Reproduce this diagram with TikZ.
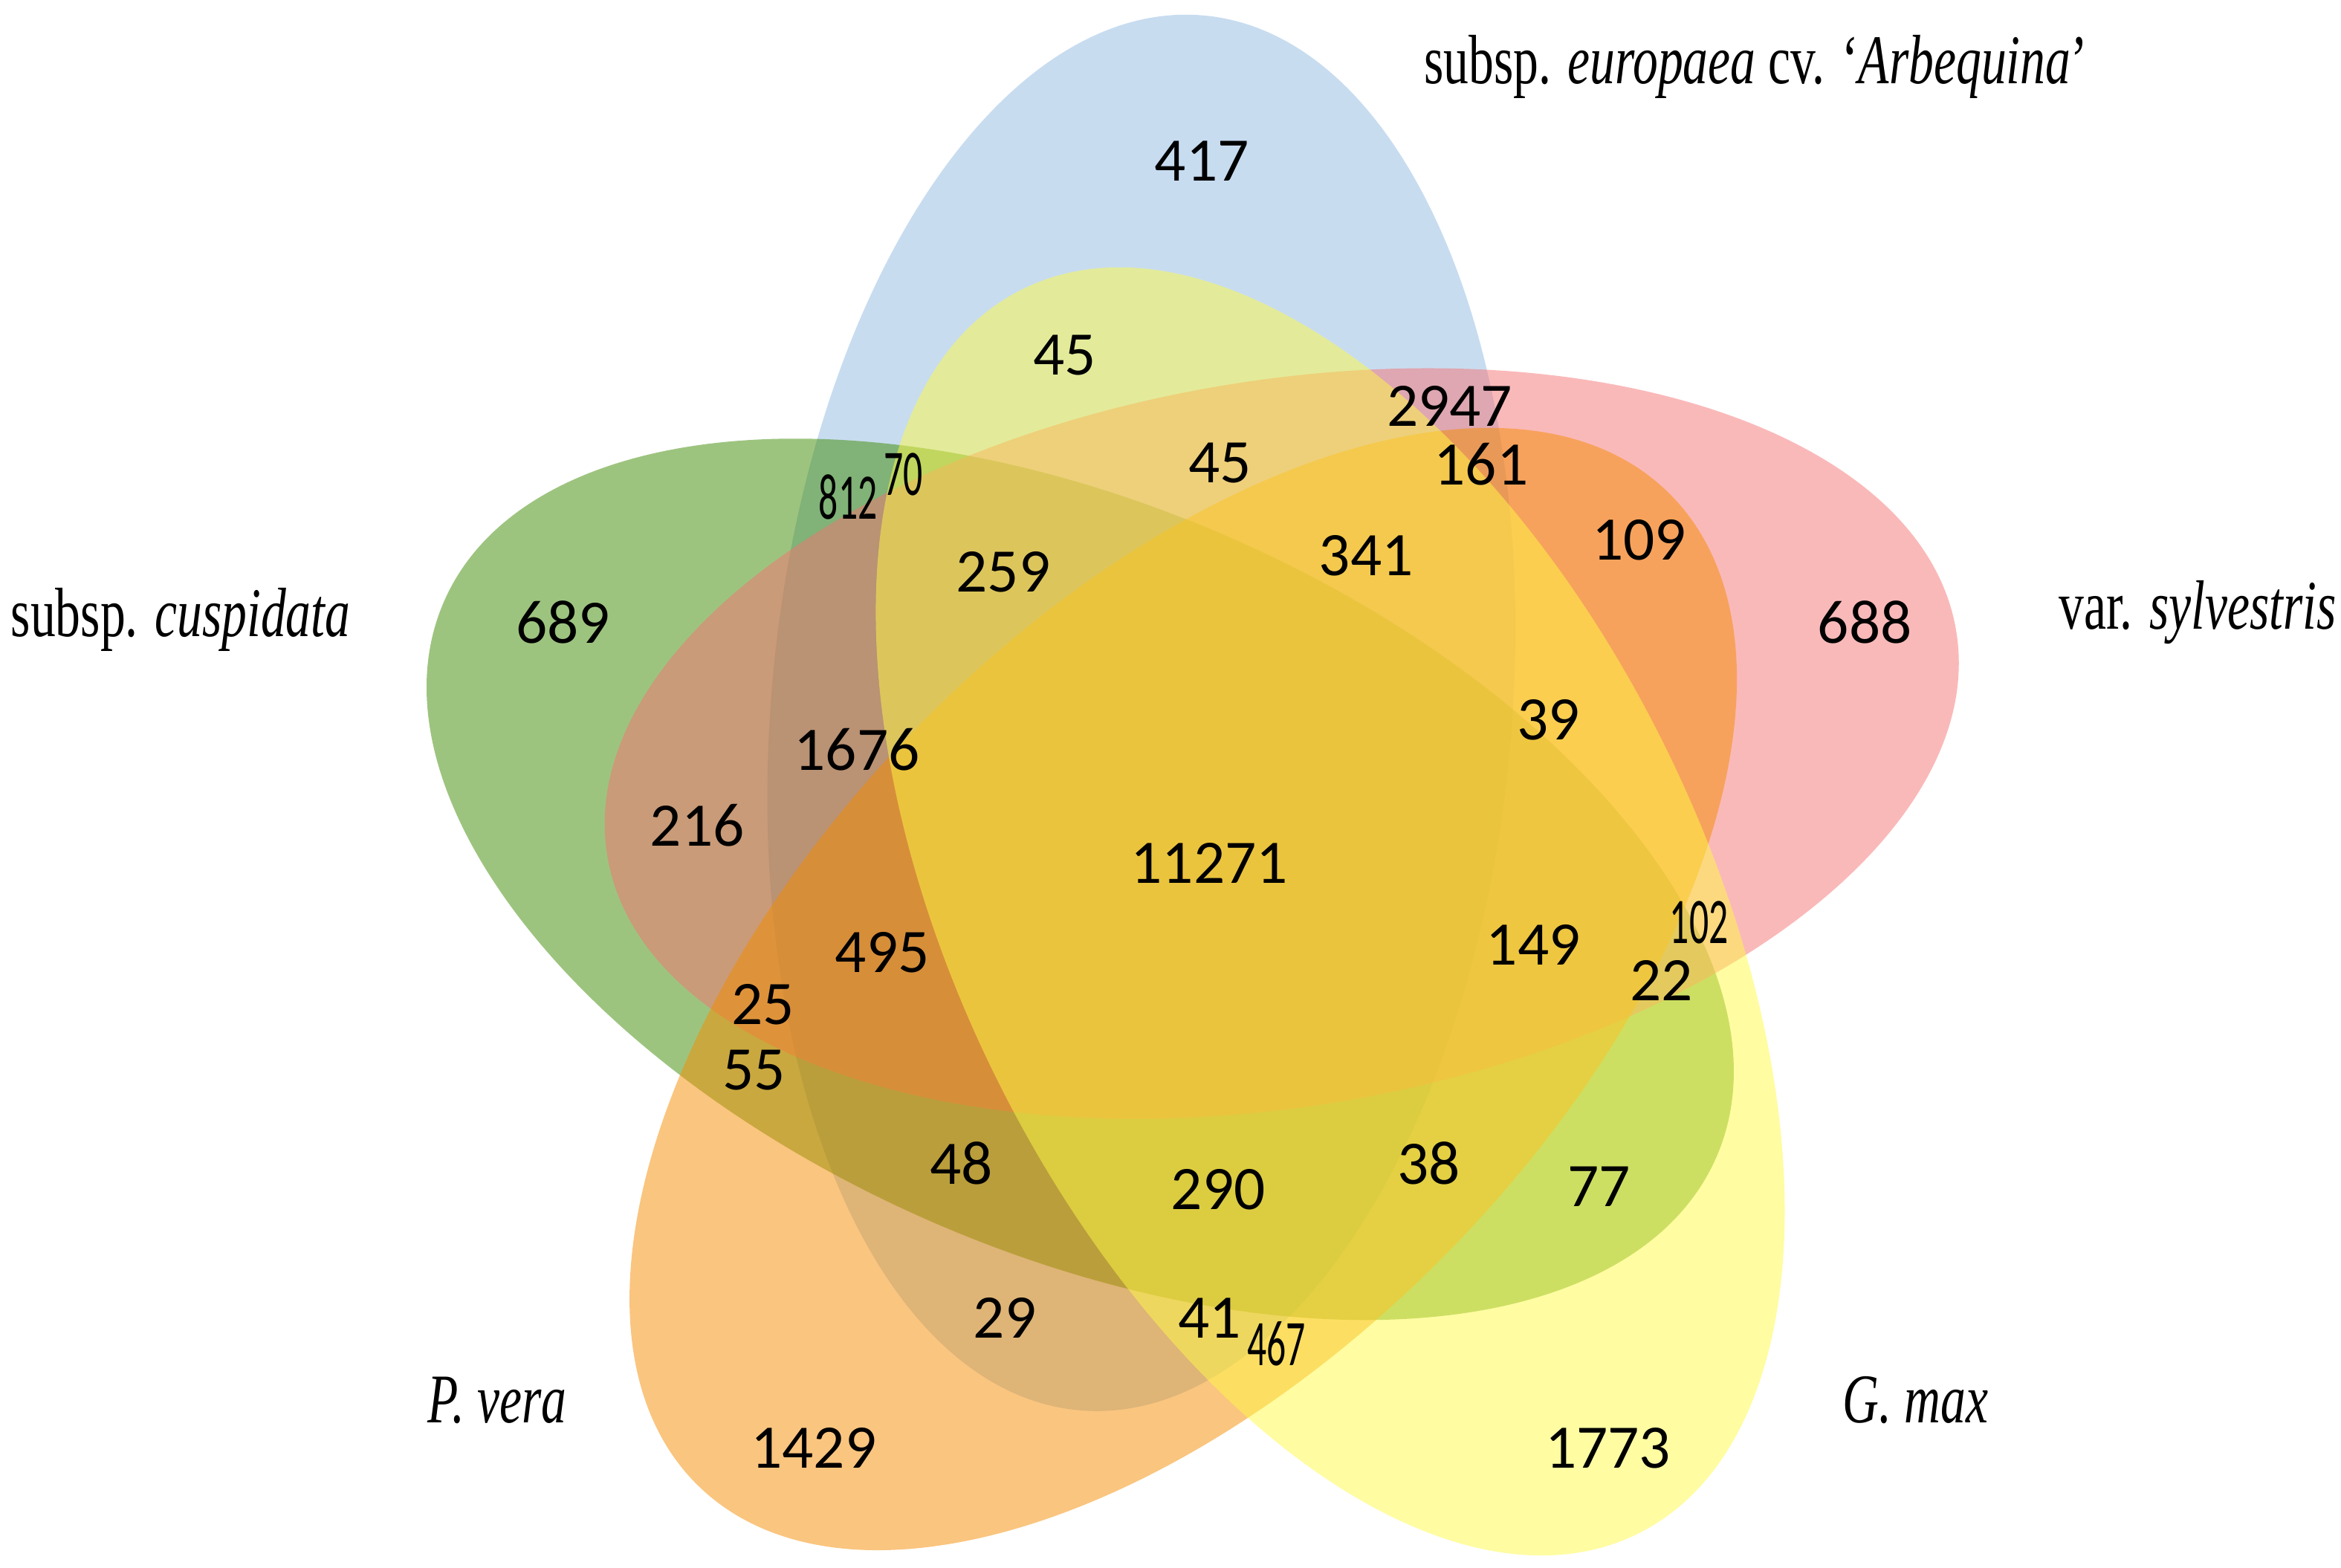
\documentclass[tikz,border=0pt]{standalone}
\usepackage{fontspec}
\usepackage{graphicx}
\setmainfont{Carlito}
\newfontfamily\labelfont{Liberation Serif}[ItalicFont={Liberation Serif Italic}]
\definecolor{arbcol}{RGB}{145,185,225}
\definecolor{sylcol}{RGB}{245,115,115}
\definecolor{cuscol}{RGB}{59,137,0}
\definecolor{vercol}{RGB}{245,140,0}
\definecolor{maxcol}{RGB}{255,250,70}
\begin{document}
\begin{tikzpicture}[font=\fontsize{11.8}{14}\selectfont,
            every node/.style={inner sep=0pt},
            petal/.style={fill opacity=0.5},
            lab/.style={font=\labelfont\fontsize{13.3}{16}\selectfont}]
            \def\narrow#1{\scalebox{0.62}[1.05]{#1}}
            \def\cond#1{\scalebox{0.72}[1]{#1}}
            \useasboundingbox (0,0) rectangle (15.68,10.5);
            \fill[petal, arbcol, shift={(7.645,5.725)}, rotate=84.9] (0,0) ellipse (4.69 and 2.48);
            \fill[petal, cuscol, shift={(7.235,4.61)}, rotate=-23.6] (0,0) ellipse (4.65 and 2.50);
            \fill[petal, sylcol, shift={(8.585,5.52)}, rotate=9.5] (0,0) ellipse (4.58 and 2.43);
            \fill[petal, vercol, shift={(7.925,3.875)}, rotate=45.7] (0,0) ellipse (4.65 and 2.50);
            \fill[petal, maxcol, shift={(8.91,4.395)}, rotate=-63.7] (0,0) ellipse (4.65 and 2.50);
            \node[lab] (arbequina) at (11.76,10.05) {\cond{subsp. \textit{europaea} cv. ‘\textit{Arbequina}’}};
            \node[lab] (cuspidata) at (1.21,6.35) {\cond{subsp. \textit{cuspidata}}};
            \node[lab] (sylvestris) at (14.72,6.40) {\cond{var. \textit{sylvestris}}};
            \node[lab] (vera) at (3.33,1.12) {\cond{\textit{P. vera}}};
            \node[lab] (gmax) at (12.83,1.12) {\cond{\textit{G. max}}};
            \node (n417) at (8.05,9.42) {417};
            \node (n45a) at (7.13,8.12) {45};
            \node (n2947) at (9.71,7.78) {2947};
            \node (n45b) at (8.17,7.40) {45};
            \node (n161) at (9.92,7.39) {161};
            \node (n70) at (6.05,7.32) {\narrow{70}};
            \node (n812) at (5.68,7.17) {\narrow{812}};
            \node (n259) at (6.72,6.67) {259};
            \node (n341) at (9.15,6.78) {341};
            \node (n109) at (10.98,6.88) {109};
            \node (n689) at (3.77,6.33) {689};
            \node (n688) at (12.49,6.33) {688};
            \node (n39) at (10.37,5.68) {39};
            \node (n1676) at (5.74,5.48) {1676};
            \node (n216) at (4.67,4.97) {216};
            \node (n11271) at (8.10,4.72) {11271};
            \node (n495) at (5.91,4.12) {495};
            \node (n149) at (10.27,4.17) {149};
            \node (n102) at (11.38,4.32) {\narrow{102}};
            \node (n22) at (11.13,3.93) {22};
            \node (n25) at (5.11,3.77) {25};
            \node (n55) at (5.05,3.33) {55};
            \node (n48) at (6.44,2.71) {48};
            \node (n290) at (8.16,2.53) {290};
            \node (n38) at (9.57,2.71) {38};
            \node (n77) at (10.71,2.55) {77};
            \node (n29) at (6.73,1.67) {29};
            \node (n41) at (8.10,1.67) {41};
            \node (n467) at (8.55,1.50) {\narrow{467}};
            \node (n1429) at (5.45,0.80) {1429};
            \node (n1773) at (10.77,0.80) {1773};
        \end{tikzpicture}
\end{document}
